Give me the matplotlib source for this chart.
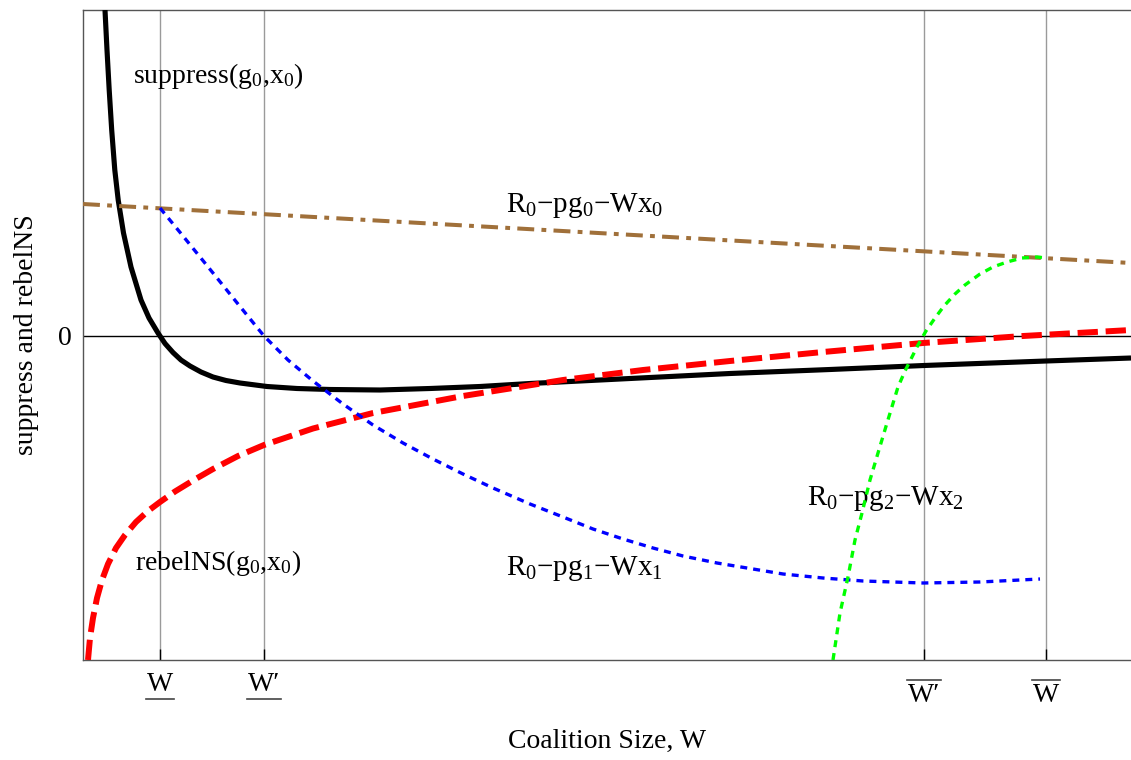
import matplotlib
matplotlib.use("Agg")
import matplotlib.pyplot as plt
from matplotlib.lines import Line2D
import matplotlib.transforms as mtransforms

plt.rcParams['font.family'] = ['Liberation Serif', 'DejaVu Serif']
plt.rcParams['mathtext.fontset'] = 'custom'
plt.rcParams['mathtext.rm'] = 'Liberation Serif'
plt.rcParams['mathtext.it'] = 'Liberation Serif'
plt.rcParams['mathtext.bf'] = 'Liberation Serif:bold'

# ---------------- data ----------------
suppress_W = [0.22, 0.24, 0.262, 0.287, 0.318, 0.352, 0.405, 0.48, 0.58, 0.66, 0.75,
              0.82, 0.90, 0.98, 1.07, 1.18, 1.30, 1.43, 1.57, 1.84, 2.14, 2.47, 2.97,
              3.47, 3.97, 4.47, 5.47, 6.47, 7.47, 8.41, 9.63, 10.48]
suppress_v = [3.26, 2.86, 2.46, 2.06, 1.66, 1.36, 1.03, 0.69, 0.36, 0.18, 0.03,
              -0.075, -0.165, -0.24, -0.30, -0.36, -0.41, -0.445, -0.47, -0.505, -0.525,
              -0.535, -0.54, -0.525, -0.505, -0.475, -0.425, -0.375, -0.335, -0.295,
              -0.25, -0.22]

rebel_W = [0.05, 0.07, 0.10, 0.14, 0.19, 0.25, 0.33, 0.42, 0.53, 0.65, 0.77, 0.92,
           1.10, 1.30, 1.55, 1.81, 2.30, 2.90, 3.80, 4.80, 5.60, 6.47, 7.40, 8.40,
           9.40, 10.48]
rebel_v = [-3.24, -3.02, -2.82, -2.62, -2.44, -2.28, -2.12, -1.99, -1.86, -1.75, -1.66,
           -1.555, -1.445, -1.33, -1.20, -1.09, -0.925, -0.77, -0.60, -0.44, -0.34,
           -0.25, -0.16, -0.07, 0.00, 0.06]

line0_W = [0.0, 10.48]
line0_v = [1.32, 0.73]

line1_W = [0.77, 1.00, 1.30, 1.55, 1.81, 2.05, 2.30, 2.60, 2.90, 3.20, 3.50, 3.80,
           4.10, 4.47, 4.80, 5.10, 5.40, 5.70, 6.00, 6.34, 6.70, 7.00, 7.40, 7.80,
           8.40, 8.97, 9.57]
line1_v = [1.28, 1.00, 0.63, 0.32, 0.00, -0.24, -0.45, -0.68, -0.89, -1.07, -1.23,
           -1.38, -1.52, -1.68, -1.81, -1.93, -2.03, -2.12, -2.20, -2.27, -2.33, -2.38,
           -2.42, -2.45, -2.47, -2.46, -2.43]

line2_W = [7.50, 7.57, 7.65, 7.72, 7.79, 7.87, 7.95, 8.04, 8.15, 8.22, 8.29, 8.35,
           8.43, 8.52, 8.61, 8.72, 8.82, 8.97, 9.10, 9.24, 9.39, 9.54, 9.63]
line2_v = [-3.24, -2.77, -2.41, -2.04, -1.77, -1.44, -1.17, -0.87, -0.51, -0.35, -0.21,
           -0.09, 0.05, 0.18, 0.30, 0.42, 0.51, 0.62, 0.69, 0.74, 0.78, 0.79, 0.78]

tick_pos = [0.77, 1.81, 8.41, 9.63]
tick_labels = ['W', 'W\u2032', 'W\u2032', 'W']
tick_marks = ['under', 'under', 'over', 'over']

# ---------------- figure ----------------
fig = plt.figure(figsize=(11.31, 7.60), dpi=100)
ax = fig.add_axes([83/1131, 100/760, 1048/1131, 650/760])
ax.set_xlim(0, 10.48)
ax.set_ylim(-3.24, 3.26)

for x in tick_pos:
    ax.axvline(x, color='#9a9a9a', lw=1.0, zorder=1)
ax.axhline(0, color='black', lw=1.0, zorder=2)

ax.plot(suppress_W, suppress_v, color='black', lw=3.7, zorder=3,
        solid_capstyle='butt', solid_joinstyle='round')
ax.plot(rebel_W, rebel_v, color='#ff0000', lw=4.3, zorder=4,
        dashes=(3.4, 1.3), dash_capstyle='butt')
ax.plot(line0_W, line0_v, color='#a0703a', lw=2.9, zorder=5,
        dashes=(4.2, 1.8, 1.2, 1.8), dash_capstyle='butt')
ax.plot(line1_W, line1_v, color='#0000ff', lw=2.4, zorder=6,
        dashes=(2.1, 1.8), dash_capstyle='butt')
ax.plot(line2_W, line2_v, color='#00ff00', lw=2.4, zorder=7,
        dashes=(2.1, 1.8), dash_capstyle='butt')

fs = 20
ax.text(0.50, 2.53, r'$\mathrm{suppress(g_0{,}x_0)}$', fontsize=fs, va='baseline', ha='left')
ax.text(4.23, 1.24, r'$\mathrm{R_0{-}pg_0{-}Wx_0}$', fontsize=21, va='baseline', ha='left')
ax.text(7.24, -1.69, r'$\mathrm{R_0{-}pg_2{-}Wx_2}$', fontsize=21, va='baseline', ha='left')
ax.text(0.52, -2.34, r'$\mathrm{rebelNS(g_0{,}x_0)}$', fontsize=fs, va='baseline', ha='left')
ax.text(4.23, -2.39, r'$\mathrm{R_0{-}pg_1{-}Wx_1}$', fontsize=21, va='baseline', ha='left')

# axes styling
for s in ['left', 'bottom', 'top']:
    ax.spines[s].set_color('#555555')
    ax.spines[s].set_linewidth(1.0)
ax.spines['right'].set_visible(False)

ax.set_xticks(tick_pos)
ax.set_xticklabels([])
ax.tick_params(axis='x', direction='in', length=8, width=1, color='black')
ax.set_yticks([0])
ax.set_yticklabels(['0'], fontsize=fs)
ax.tick_params(axis='y', direction='in', length=0, pad=8)

ax.set_xlabel('Coalition Size, W', fontsize=fs, labelpad=46)
ax.set_ylabel('suppress and rebelNS', fontsize=fs, labelpad=14)

trans = mtransforms.blended_transform_factory(ax.transData, ax.transAxes)
texts = []
for x, lab, mk in zip(tick_pos, tick_labels, tick_marks):
    yy = -0.019 if mk == 'under' else -0.036
    t = ax.text(x, yy, lab, fontsize=fs, ha='center', va='top', transform=trans, clip_on=False)
    texts.append((t, mk))

fig.canvas.draw()
r = fig.canvas.get_renderer()
for t, mk in texts:
    bb = t.get_window_extent(renderer=r)
    if mk == 'under':
        y = bb.y0 - 2
    else:
        y = bb.y1 + 3
    fig.add_artist(Line2D([bb.x0 - 1, bb.x1 + 1], [y, y], transform=None,
                          color='#444444', lw=1.2))

fig.savefig('out.png', dpi=100)
